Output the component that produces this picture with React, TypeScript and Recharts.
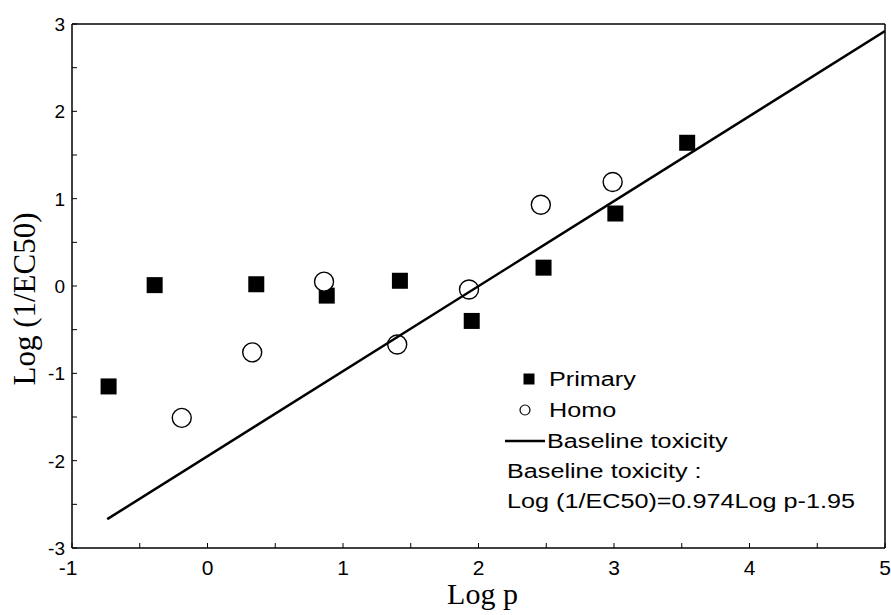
import { ScatterChart, Scatter, XAxis, YAxis, ReferenceLine, Legend } from "recharts"

const primaryX = [-0.73, -0.39, 0.36, 0.88, 1.42, 1.95, 2.48, 3.01, 3.54]
const primaryY = [-1.15, 0.01, 0.02, -0.11, 0.06, -0.4, 0.21, 0.83, 1.64]
const homoX = [-0.19, 0.33, 0.86, 1.4, 1.93, 2.46, 2.99]
const homoY = [-1.51, -0.76, 0.05, -0.67, -0.04, 0.93, 1.19]
// baseline toxicity line, end points
const baselineX = [-0.74, 5]
const baselineY = [-2.67, 2.92]

const xTicks = [-1, -0.5, 0, 0.5, 1, 1.5, 2, 2.5, 3, 3.5, 4, 4.5, 5]
const yTicks = [-3, -2.5, -2, -1.5, -1, -0.5, 0, 0.5, 1, 1.5, 2, 2.5, 3]

const primary = primaryX.map((x, i) => ({ x, y: primaryY[i] }))
const homo = homoX.map((x, i) => ({ x, y: homoY[i] }))
const baseline = baselineX.map((x, i) => ({ x, y: baselineY[i] }))

const sans = "'Liberation Sans', Arial, sans-serif"
const serif = "'Liberation Serif', 'Times New Roman', serif"

const Square = (p: any) => <rect x={p.cx - 8} y={p.cy - 8} width={16} height={16} fill="#000" />
const Ring = (p: any) => <circle cx={p.cx} cy={p.cy} r={9.5} fill="#fff" stroke="#000" strokeWidth={1.4} />

// ticks point inward, labels only on whole numbers
const XTick = ({ x, y, payload }: any) => {
  const v = payload.value
  return (
    <g>
      <line x1={x} x2={x} y1={y} y2={y - 5} stroke="#000" strokeWidth={1} />
      {Number.isInteger(v) && (
        <text x={v < 0 ? x - 4 : x} y={y + 27} textAnchor="middle" fontFamily={sans} fontSize={21} fill="#000">
          {v}
        </text>
      )}
    </g>
  )
}

const YTick = ({ x, y, payload }: any) => {
  const v = payload.value
  return (
    <g>
      <line x1={x} x2={x + 5} y1={y} y2={y} stroke="#000" strokeWidth={1} />
      {Number.isInteger(v) && (
        <text x={x - 7} y={y + 7} textAnchor="end" fontFamily={sans} fontSize={19} fill="#000">
          {v}
        </text>
      )}
    </g>
  )
}

function LegendBox() {
  const t = { fontFamily: sans, fontSize: 21, fill: "#000" }
  return (
    <svg width={390} height={160}>
      <g transform="scale(1.2,1)">
        <rect x={(29 - 5.5) / 1.2} y={17 - 5.5} width={11 / 1.2} height={11} fill="#000" />
        <text x={49 / 1.2} y={24} {...t}>Primary</text>
        <ellipse cx={25 / 1.2} cy={48} rx={5 / 1.2} ry={5} fill="#fff" stroke="#000" strokeWidth={1} />
        <text x={49 / 1.2} y={55} {...t}>Homo</text>
        <line x1={5 / 1.2} x2={45 / 1.2} y1={79} y2={79} stroke="#000" strokeWidth={2.5} />
        <text x={47 / 1.2} y={86} {...t}>Baseline toxicity</text>
        <text x={7 / 1.2} y={116} {...t}>Baseline toxicity :</text>
        <text x={7 / 1.2} y={146} {...t}>Log (1/EC50)=0.974Log p-1.95</text>
      </g>
    </svg>
  )
}

export default function App() {
  return (
    <div style={{ position: "absolute", left: 0, top: 0, background: "#fff" }}>
      <ScatterChart width={891} height={615} margin={{ top: 24, right: 6, bottom: 0, left: 0 }}>
        <XAxis
          type="number"
          dataKey="x"
          domain={[-1, 5]}
          ticks={xTicks}
          tickSize={0}
          tickMargin={0}
          tickLine={false}
          height={67}
          axisLine={{ stroke: "#000", strokeWidth: 1.5 }}
          tick={<XTick />}
          interval={0}
          allowDataOverflow
          label={{
            content: ({ viewBox }: any) => (
              <text x={viewBox.x + viewBox.width / 2 + 4} y={604} textAnchor="middle" fontFamily={serif} fontSize={30} fill="#000">
                Log p
              </text>
            ),
          }}
        />
        <YAxis
          type="number"
          dataKey="y"
          domain={[-3, 3]}
          ticks={yTicks}
          tickSize={0}
          tickMargin={0}
          tickLine={false}
          width={72}
          axisLine={{ stroke: "#000", strokeWidth: 1.5 }}
          tick={<YTick />}
          interval={0}
          allowDataOverflow
          label={{
            content: ({ viewBox }: any) => {
              const cx = 35
              const cy = viewBox.y + viewBox.height / 2 + 13
              return (
                <text x={cx} y={cy} transform={`rotate(-90 ${cx} ${cy})`} textAnchor="middle" fontFamily={serif} fontSize={31} fill="#000">
                  Log (1/EC50)
                </text>
              )
            },
          }}
        />
        <ReferenceLine y={3} stroke="#000" strokeWidth={1.5} />
        <ReferenceLine x={5} stroke="#000" strokeWidth={1.5} />
        <Scatter name="Primary" data={primary} shape={Square} isAnimationActive={false} />
        <Scatter name="Homo" data={homo} shape={Ring} isAnimationActive={false} />
        <Scatter
          name="Baseline toxicity"
          data={baseline}
          line={{ stroke: "#000", strokeWidth: 2.5 }}
          shape={() => <g />}
          isAnimationActive={false}
        />
        <Legend
          layout="vertical"
          align="center"
          verticalAlign="middle"
          content={() => <LegendBox />}
          wrapperStyle={{ left: 500, top: 362, width: 390 }}
        />
      </ScatterChart>
    </div>
  )
}
